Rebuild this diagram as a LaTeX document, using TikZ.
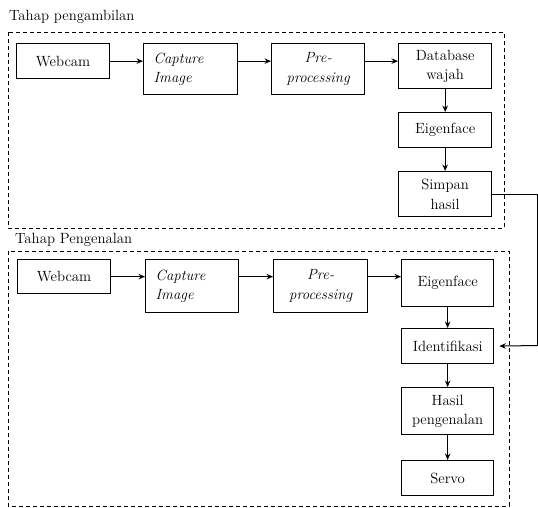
\documentclass[tikz,border=0pt]{standalone}
\usetikzlibrary{arrows.meta}
\begin{document}
\begin{tikzpicture}[x=1pt,y=-1pt,
  every node/.style={font=\fontsize{14.8}{19.5}\selectfont},
  box/.style={draw, line width=1.3pt, anchor=north west, inner sep=0pt, align=center},
  leftbox/.style={box, align=left, text width=#1},
  frame/.style={draw, line width=1pt, dash pattern=on 4pt off 3pt},
  arr/.style={line width=1pt, -{Stealth[length=6.5pt,width=5.5pt]}},
  lbl/.style={anchor=west, inner sep=0pt}]
\useasboundingbox (0,0) rectangle (538,507);
% frames
\draw[frame] (8,32) rectangle (504,228);
\draw[frame] (8,251) rectangle (509,506);
\node[lbl] (t1) at (9,17) {Tahap pengambilan};
\node[lbl] (t2) at (15,240) {Tahap Pengenalan};
% top row
\node[box, minimum width=93pt, minimum height=35pt] (w1) at (16,43) {Webcam};
\node[leftbox=74pt, inner xsep=10pt, minimum height=51pt] (c1) at (143,43) {\itshape Capture\\\itshape Image};
\node[box, minimum width=93pt, minimum height=51pt] (p1) at (271,43) {\itshape Pre-\\\itshape processing};
\node[box, minimum width=93pt, minimum height=45pt] (d1) at (398,43) {Database\\wajah};
\node[box, minimum width=93pt, minimum height=35pt] (e1) at (398,112) {Eigenface};
\node[box, minimum width=93pt, minimum height=45pt] (s1) at (398,171) {Simpan\\hasil};
% bottom row
\node[box, minimum width=93pt, minimum height=34pt] (w2) at (17,259) {Webcam};
\node[leftbox=73pt, inner xsep=10pt, minimum height=53pt] (c2) at (145,259) {\itshape Capture\\\itshape Image};
\node[box, minimum width=94pt, minimum height=53pt] (p2) at (273,259) {\itshape Pre-\\\itshape processing};
\node[box, minimum width=92pt, minimum height=47pt] (e2) at (401,259) {Eigenface};
\node[box, minimum width=92pt, minimum height=35pt] (i2) at (401,328) {Identifikasi};
\node[box, minimum width=92pt, minimum height=47pt] (h2) at (401,387) {Hasil\\pengenalan};
\node[box, minimum width=92pt, minimum height=35pt] (sv) at (401,460) {Servo};
% top arrows
\draw[arr] (w1.east) -- (w1.east -| c1.west);
\draw[arr] (c1.east |- w1.east) -- (w1.east -| p1.west);
\draw[arr] (p1.east |- w1.east) -- (w1.east -| d1.west);
\draw[arr] (d1.south) -- (e1.north);
\draw[arr] (e1.south) -- (s1.north);
% bottom arrows
\draw[arr] (w2.east) -- (w2.east -| c2.west);
\draw[arr] (c2.east |- w2.east) -- (w2.east -| p2.west);
\draw[arr] (p2.east |- w2.east) -- (w2.east -| e2.west);
\draw[arr] (e2.south) -- (i2.north);
\draw[arr] (i2.south) -- (h2.north);
\draw[arr] (h2.south) -- (sv.north);
% feedback
\coordinate (r1) at (537,194);
\coordinate (r2) at (537,345.5);
\draw[line width=1pt] (s1.east |- r1) -- (r1) -- (r2);
\draw[arr, shorten >=5pt] (r2) -- (i2.east);
\end{tikzpicture}
\end{document}
